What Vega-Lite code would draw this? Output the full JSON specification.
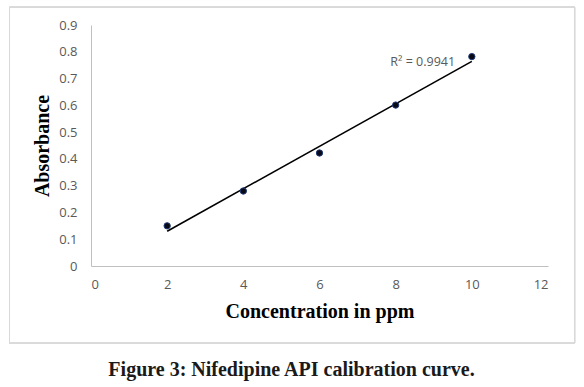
{
  "$schema": "https://vega.github.io/schema/vega-lite/v6.json",
  "width": 457,
  "height": 241,
  "autosize": "none",
  "padding": {"left": 91, "top": 25, "right": 36, "bottom": 121},
  "background": "white",
  "config": {"view": {"stroke": null}, "axis": {"labelOverlap": false}},
  "title": {
    "text": "Figure 3: Nifedipine API calibration curve.",
    "orient": "bottom",
    "anchor": "middle",
    "font": "Liberation Serif",
    "fontSize": 20,
    "fontWeight": "bold",
    "color": "#1a1a1a",
    "offset": 16,
    "dx": -28
  },
  "data": {
    "values": [
      {"conc": 2, "abs": 0.15},
      {"conc": 4, "abs": 0.28},
      {"conc": 6, "abs": 0.422},
      {"conc": 8, "abs": 0.601},
      {"conc": 10, "abs": 0.782}
    ]
  },
  "layer": [
    {
      "transform": [{"regression": "abs", "on": "conc"}],
      "mark": {"type": "line", "color": "#000000", "strokeWidth": 1.6},
      "encoding": {
        "x": {
          "field": "conc",
          "type": "quantitative",
          "scale": {"domain": [0, 12], "nice": false, "zero": false},
          "axis": {
            "title": "Concentration in ppm",
            "values": [0, 2, 4, 6, 8, 10, 12],
            "tickCount": 20,
            "format": "d",
            "grid": false,
            "ticks": false,
            "labelOverlap": false,
            "domainColor": "#bfbfbf",
            "labelFont": "Open Sans",
            "labelFontSize": 13,
            "labelColor": "#595959",
            "labelPadding": 12,
            "titleFont": "Liberation Serif",
            "titleFontSize": 20,
            "titleFontWeight": "bold",
            "titleColor": "#000000",
            "titlePadding": 10
          }
        },
        "y": {
          "field": "abs",
          "type": "quantitative",
          "scale": {"domain": [0, 0.9], "nice": false},
          "axis": {
            "title": "Absorbance",
            "tickCount": 20,
            "values": [0, 0.1, 0.2, 0.3, 0.4, 0.5, 0.6, 0.7, 0.8, 0.9],
            "format": ".1~f",
            "grid": false,
            "ticks": false,
            "labelOverlap": false,
            "domainColor": "#bfbfbf",
            "labelFont": "Open Sans",
            "labelFontSize": 13,
            "labelColor": "#595959",
            "labelPadding": 14,
            "titleFont": "Liberation Serif",
            "titleFontSize": 20,
            "titleFontWeight": "bold",
            "titleColor": "#000000",
            "titlePadding": 6
          }
        }
      }
    },
    {
      "mark": {"type": "point", "filled": true, "size": 40, "color": "#0a0a14", "stroke": "#1f3a78", "strokeWidth": 1, "opacity": 1},
      "encoding": {
        "x": {"field": "conc", "type": "quantitative"},
        "y": {"field": "abs", "type": "quantitative"}
      }
    },
    {
      "mark": {"type": "rect", "fill": null, "stroke": "#d9d9d9", "strokeWidth": 1},
      "encoding": {
        "x": {"datum": -2.14, "type": "quantitative"},
        "x2": {"datum": 12.7},
        "y": {"datum": 0.967, "type": "quantitative"},
        "y2": {"datum": -0.288}
      }
    },
    {
      "data": {"values": [{"label": "R² = 0.9941"}]},
      "mark": {"type": "text", "font": "Open Sans", "fontSize": 12.5, "color": "#595959", "align": "center", "baseline": "middle"},
      "encoding": {
        "text": {"field": "label"},
        "x": {"datum": 8.71, "type": "quantitative"},
        "y": {"datum": 0.762, "type": "quantitative"}
      }
    }
  ]
}
